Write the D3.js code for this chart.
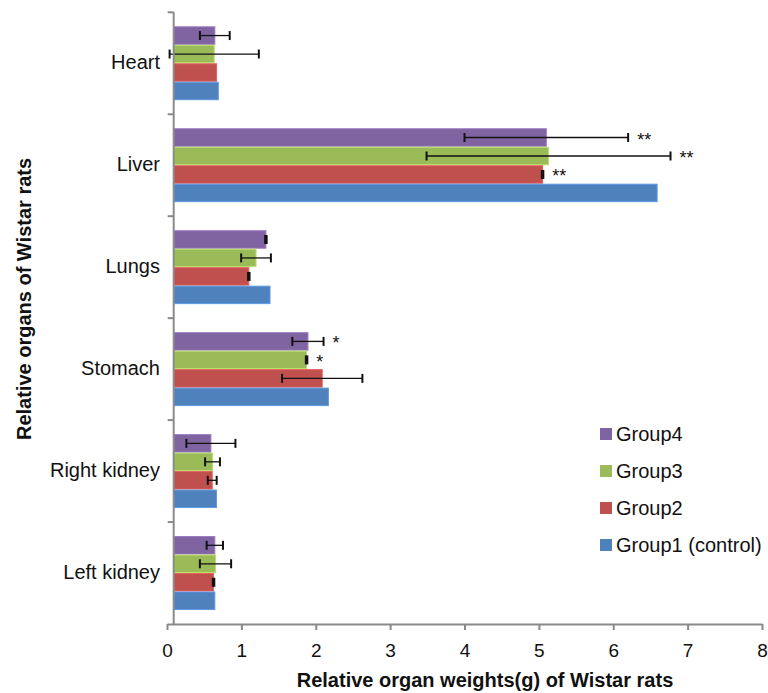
<!DOCTYPE html>
<html>
<head>
<meta charset="utf-8">
<script src="https://cdn.jsdelivr.net/npm/d3@7"></script>
<style>
  html, body { margin: 0; padding: 0; background: #fff; }
  svg { display: block; font-family: "Liberation Sans", Arial, Helvetica, sans-serif; }
</style>
</head>
<body>
<svg id="chart" width="768" height="693"></svg>
<script>
// ---------------- data ----------------
const categories = ["Heart", "Liver", "Lungs", "Stomach", "Right kidney", "Left kidney"];
const groups = ["Group4", "Group3", "Group2", "Group1 (control)"];   // top to bottom in each band
const group1 = [0.69, 6.59, 1.385, 2.17, 0.666, 0.643];
const group2 = [0.666, 5.05, 1.10, 2.087, 0.608, 0.626];
const group3 = [0.635, 5.13, 1.197, 1.877, 0.612, 0.652];
const group4 = [0.643, 5.10, 1.33, 1.895, 0.59, 0.643];
const err1 = [null, null, null, null, null, null];
const err2 = [null, 0.01, 0.01, 0.54, 0.06, 0.01];
const err3 = [0.6, 1.64, 0.2, 0.01, 0.1, 0.21];
const err4 = [0.2, 1.1, 0.01, 0.21, 0.33, 0.11];
const sig1 = ["", "", "", "", "", ""];
const sig2 = ["", "**", "", "", "", ""];
const sig3 = ["", "**", "", "*", "", ""];
const sig4 = ["", "**", "", "*", "", ""];
const xTicks = [0, 1, 2, 3, 4, 5, 6, 7, 8];
const axisCross = 0.09;   // value where the category axis crosses
const xTitle = "Relative organ weights(g) of Wistar rats";
const yTitle = "Relative organs of Wistar rats";
const colors = ["#8064A2", "#9BBB59", "#C0504D", "#4F81BD"];

const series = [
  { name: groups[0], values: group4, err: err4, sig: sig4, color: colors[0] },
  { name: groups[1], values: group3, err: err3, sig: sig3, color: colors[1] },
  { name: groups[2], values: group2, err: err2, sig: sig2, color: colors[2] },
  { name: groups[3], values: group1, err: err1, sig: sig1, color: colors[3] }
];

// ---------------- layout ----------------
const svg = d3.select("#chart");
const plotTop = 12.3, plotBottom = 624;
const x = d3.scaleLinear().domain([0, 8]).range([167, 762]);
const y = d3.scaleBand().domain(categories).range([plotTop, plotBottom])
  .paddingInner(0.275).paddingOuter(0.1375);
const yInner = d3.scaleBand().domain(groups).range([0, y.bandwidth()]).padding(0);
const axisColor = "#8a8a8a";
const x0 = x(axisCross);

// ---------------- bars ----------------
const rows = [];
series.forEach(s => categories.forEach((c, i) => rows.push({
  cat: c, name: s.name, v: s.values[i], e: s.err[i], sig: s.sig[i], color: s.color
})));

const g = svg.append("g");
g.selectAll("rect.bar").data(rows).join("rect")
  .attr("class", "bar")
  .attr("x", x0)
  .attr("y", d => y(d.cat) + yInner(d.name) + 0.5)
  .attr("width", d => x(d.v) - x0)
  .attr("height", yInner.bandwidth() - 1)
  .attr("fill", d => d.color)
  .attr("stroke", d => d3.color(d.color).brighter(0.5))
  .attr("stroke-width", 1);

// ---------------- error bars ----------------
const eb = rows.filter(d => d.e != null);
const cy = d => y(d.cat) + yInner(d.name) + yInner.bandwidth() / 2;
const capH = 9;
g.selectAll("line.err").data(eb).join("line")
  .attr("x1", d => x(d.v - d.e)).attr("x2", d => x(d.v + d.e))
  .attr("y1", cy).attr("y2", cy)
  .attr("stroke", "#111").attr("stroke-width", 1.3);
g.selectAll("line.capl").data(eb).join("line")
  .attr("x1", d => x(d.v - d.e)).attr("x2", d => x(d.v - d.e))
  .attr("y1", d => cy(d) - capH / 2).attr("y2", d => cy(d) + capH / 2)
  .attr("stroke", "#111").attr("stroke-width", 2);
g.selectAll("line.caph").data(eb).join("line")
  .attr("x1", d => x(d.v + d.e)).attr("x2", d => x(d.v + d.e))
  .attr("y1", d => cy(d) - capH / 2).attr("y2", d => cy(d) + capH / 2)
  .attr("stroke", "#111").attr("stroke-width", 2);

// significance stars
g.selectAll("text.sig").data(rows.filter(d => d.sig)).join("text")
  .attr("x", d => x(d.v + (d.e || 0)) + 9)
  .attr("y", d => cy(d) + 8)
  .attr("font-size", 18)
  .attr("fill", "#111")
  .text(d => d.sig);

// ---------------- axes ----------------
// category axis
const step = y.step();
const bounds = d3.range(categories.length + 1).map(i => plotTop + i * step);
svg.append("line").attr("x1", x0).attr("x2", x0).attr("y1", plotTop).attr("y2", plotBottom)
  .attr("stroke", axisColor).attr("stroke-width", 2);
svg.selectAll("line.ytick").data(bounds.slice(0, -1)).join("line")
  .attr("x1", x0 - 6).attr("x2", x0).attr("y1", d => d).attr("y2", d => d)
  .attr("stroke", axisColor).attr("stroke-width", 2);
svg.selectAll("text.cat").data(categories).join("text")
  .attr("x", 160)
  .attr("y", d => y(d) + y.bandwidth() / 2 + 5.5)
  .attr("text-anchor", "end")
  .attr("font-size", 20)
  .attr("fill", "#111")
  .text(d => d);

// value axis
const xAxis = svg.append("g").attr("transform", `translate(0,${plotBottom})`)
  .call(d3.axisBottom(x).tickValues(xTicks).tickFormat(d3.format("d")).tickSize(6).tickPadding(14).tickSizeOuter(0));
xAxis.select(".domain").attr("stroke", axisColor).attr("stroke-width", 2);
xAxis.selectAll(".tick line").attr("stroke", axisColor).attr("stroke-width", 2);
xAxis.selectAll(".tick text").attr("font-size", 19).attr("fill", "#111")
  .attr("font-family", "Liberation Sans, Arial, sans-serif");

// titles
svg.append("text").attr("x", 485).attr("y", 687).attr("text-anchor", "middle")
  .attr("font-size", 20).attr("font-weight", "bold").attr("fill", "#111").text(xTitle);
svg.append("text").attr("transform", "translate(31,299) rotate(-90)").attr("text-anchor", "middle")
  .attr("font-size", 20).attr("font-weight", "bold").attr("fill", "#111").text(yTitle);

// ---------------- legend ----------------
const legend = svg.append("g").selectAll("g").data(series).join("g")
  .attr("transform", (d, i) => `translate(600,${434 + i * 37})`);
legend.append("rect").attr("x", 0).attr("y", -6).attr("width", 12).attr("height", 12)
  .attr("fill", d => d.color);
legend.append("text").attr("x", 16).attr("y", 7).attr("font-size", 20).attr("fill", "#111")
  .text(d => d.name);
</script>
</body>
</html>
